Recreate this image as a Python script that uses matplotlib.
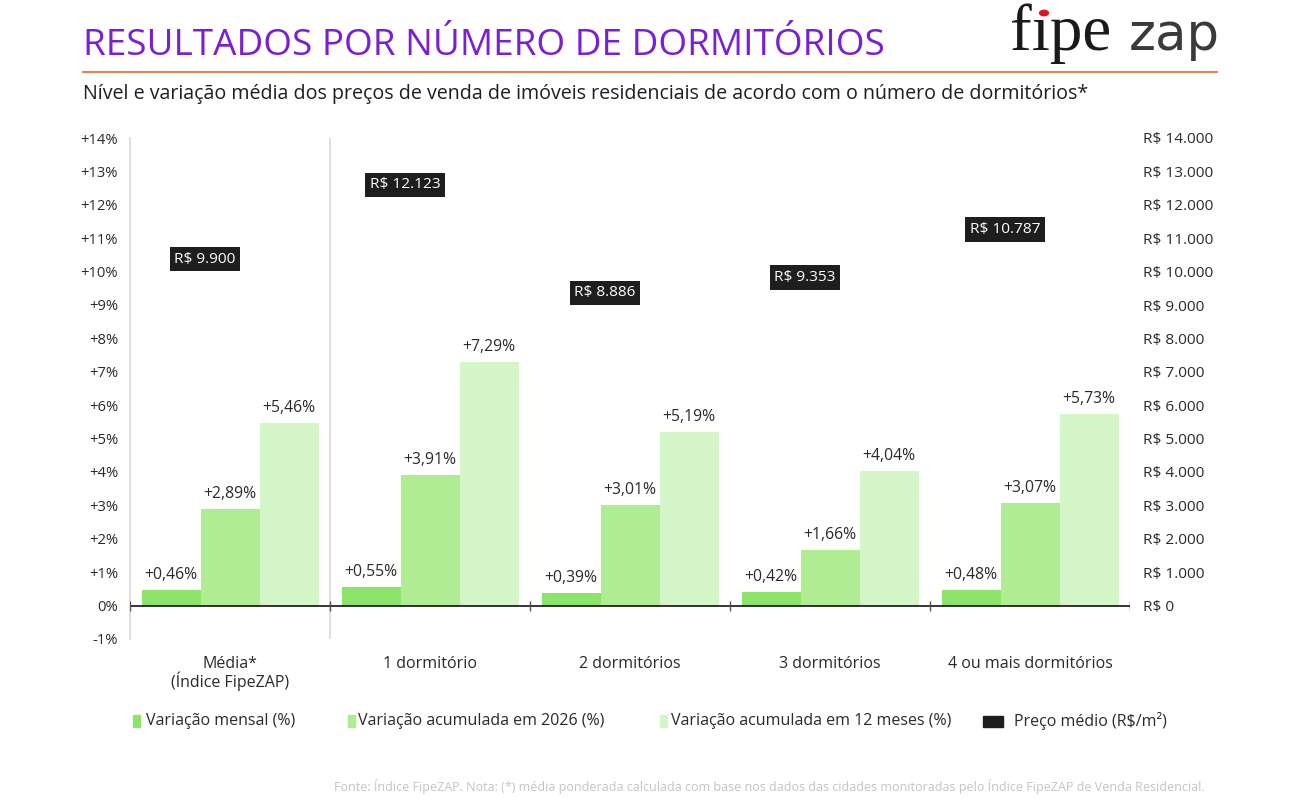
import numpy as np
import matplotlib.pyplot as plt
from matplotlib.patches import Rectangle, Circle
from matplotlib.lines import Line2D

plt.rcParams['font.family'] = ['Open Sans', 'DejaVu Sans']

# data
categories = ['Média*\n(Índice FipeZAP)', '1 dormitório', '2 dormitórios',
              '3 dormitórios', '4 ou mais dormitórios']
var_mensal = [0.46, 0.55, 0.39, 0.42, 0.48]
var_ano = [2.89, 3.91, 3.01, 1.66, 3.07]
var_12m = [5.46, 7.29, 5.19, 4.04, 5.73]
preco = [9900, 12123, 8886, 9353, 10787]
series_names = ['Variação mensal (%)', 'Variação acumulada em 2026 (%)',
                'Variação acumulada em 12 meses (%)', 'Preço médio (R$/m²)']

c_mensal = '#8de46a'
c_ano = '#b0ec92'
c_12m = '#d5f6c9'
c_box = '#1e1e1e'
txt = '#2a2a2a'

W, H = 1297, 799
fig = plt.figure(figsize=(W/100, H/100), dpi=100)

def fx(px):
    return px / W

def fy(py):
    return 1 - py / H

# header
fig.text(fx(83), fy(46), 'RESULTADOS POR NÚMERO DE DORMITÓRIOS', color='#7a1fd6',
         fontsize=26.6, va='center', ha='left')
fig.add_artist(Line2D([fx(83), fx(1217)], [fy(72), fy(72)], color='#e8622c', lw=1.2))
fig.text(fx(83), fy(94), 'Nível e variação média dos preços de venda de imóveis residenciais '
         'de acordo com o número de dormitórios*', color='#1e1e1e', fontsize=14.1,
         va='center', ha='left')

# logo
fig.text(fx(1010), fy(50), 'f\u0131pe', family='Liberation Serif', fontsize=47,
         color='#1a1a1a', va='baseline', ha='left')
fig.text(fx(1129), fy(50), 'zap', family='DejaVu Sans', fontsize=37,
         color='#3a3a3a', va='baseline', ha='left')
fig.add_artist(Circle((fx(1044), fy(13)), 4.4 / W, color='#e0141e',
                      transform=fig.transFigure))

# axes
ax = fig.add_axes([fx(130), fy(639), fx(1130) - fx(130), fy(138) - fy(639)])
x = np.arange(len(categories))
bw = 0.295
b1 = ax.bar(x - bw, var_mensal, bw, color=c_mensal, zorder=2)
b2 = ax.bar(x, var_ano, bw, color=c_ano, zorder=2)
b3 = ax.bar(x + bw, var_12m, bw, color=c_12m, zorder=2)

for bars, vals in ((b1, var_mensal), (b2, var_ano), (b3, var_12m)):
    for r, v in zip(bars, vals):
        ax.annotate('+' + f'{v:.2f}'.replace('.', ',') + '%',
                    (r.get_x() + r.get_width() / 2, v), xytext=(0, 5),
                    textcoords='offset points', ha='center', va='bottom',
                    fontsize=11.3, color=txt)

ax.set_xlim(-0.5, len(categories) - 0.5)
ax.set_ylim(-1, 14)
ax.set_yticks(range(-1, 15))
ax.set_yticklabels([f'+{t}%' if t > 0 else f'{t}%' for t in range(-1, 15)])
ax.tick_params(axis='y', length=0, pad=8.5, labelsize=10.6, labelcolor=txt)
ax.set_xticks([])
for s in ['top', 'right', 'bottom']:
    ax.spines[s].set_visible(False)
ax.spines['left'].set_color('#dcdcdc')
ax.spines['left'].set_linewidth(1.3)
ax.axvline(0.5, color='#dcdcdc', lw=1.3, zorder=1)
ax.axhline(0, color='#111111', lw=1.2, zorder=3)
ax.vlines(np.arange(-0.5, len(categories)), -0.15, 0.15, color='#555555', lw=1, zorder=3)

for i, c in enumerate(categories):
    ax.text(i, -1.5, c, ha='center', va='top', fontsize=11.5, color=txt,
            linespacing=1.0)

# right axis for price
ax2 = ax.twinx()
ax2.set_ylim(-1000, 14000)
ax2.set_yticks(range(0, 15000, 1000))
ax2.set_yticklabels(['R$ ' + f'{t:,}'.replace(',', '.') for t in range(0, 15000, 1000)])
ax2.tick_params(axis='y', length=0, pad=9.5, labelsize=11.1, labelcolor=txt)
for s in ax2.spines.values():
    s.set_visible(False)
for i, p in enumerate(preco):
    ax2.annotate('R$ ' + f'{p:,}'.replace(',', '.'), (x[i] - bw + 0.17, p),
                 xytext=(0, 6), textcoords='offset points', ha='center', va='bottom',
                 fontsize=11.1, color='white',
                 bbox=dict(boxstyle='square,pad=0.3', fc=c_box, ec='none'))

# legend
leg = [(133, 7, c_mensal, 146), (348, 7, c_ano, 358), (660, 7, c_12m, 671),
       (983, 20, c_box, 1014)]
for (lx, lw_, col, tx), name in zip(leg, series_names):
    h = 12 if lw_ < 10 else 11
    fig.add_artist(Rectangle((fx(lx), fy(721 + h / 2)), lw_ / W, h / H, color=col,
                             transform=fig.transFigure))
    fig.text(fx(tx), fy(721), name, fontsize=11.5, color=txt, va='center', ha='left')

fig.text(fx(1205), fy(787), 'Fonte: Índice FipeZAP. Nota: (*) média ponderada calculada com '
         'base nos dados das cidades monitoradas pelo Índice FipeZAP de Venda Residencial.',
         fontsize=9.0, color='#c4c4c4', ha='right', va='center')

fig.savefig('out.png', dpi=100)
